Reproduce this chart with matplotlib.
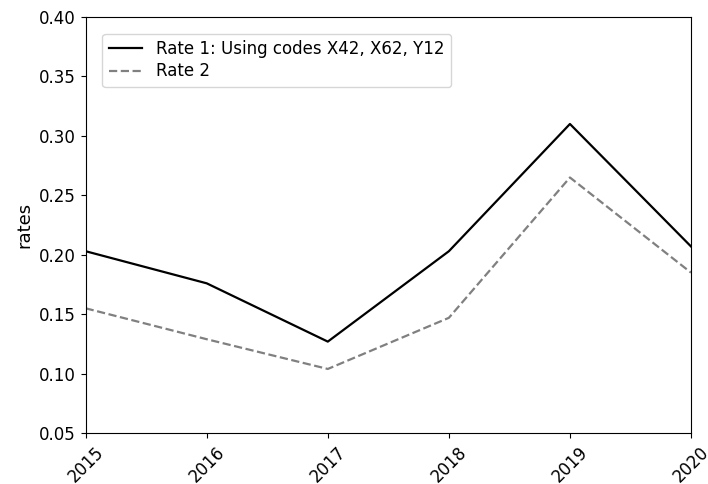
import matplotlib
matplotlib.use('Agg')
import matplotlib.pyplot as plt

years = [2015, 2016, 2017, 2018, 2019, 2020]
rate1 = [0.203, 0.176, 0.127, 0.203, 0.310, 0.207]
rate2 = [0.155, 0.129, 0.104, 0.147, 0.265, 0.185]

plt.rcParams['font.size'] = 12

fig, ax = plt.subplots(figsize=(7.08, 4.84), dpi=100)
fig.subplots_adjust(left=0.121, right=0.976, top=0.965, bottom=0.105)

ax.plot(years, rate1, color='black', linewidth=1.6, label='Rate 1: Using codes X42, X62, Y12')
ax.plot(years, rate2, color='gray', linewidth=1.6, linestyle='--', label='Rate 2')

ax.set_xlim(2015, 2020)
ax.set_ylim(0.05, 0.40)
ax.set_xticks(years)
ax.set_xticklabels([str(y) for y in years], rotation=45)
ax.set_ylabel('rates', fontsize=13)
ax.legend(loc='upper left', fontsize=12, borderaxespad=1.0, labelspacing=0.25)

plt.savefig('out.png', dpi=100)
plt.close()
